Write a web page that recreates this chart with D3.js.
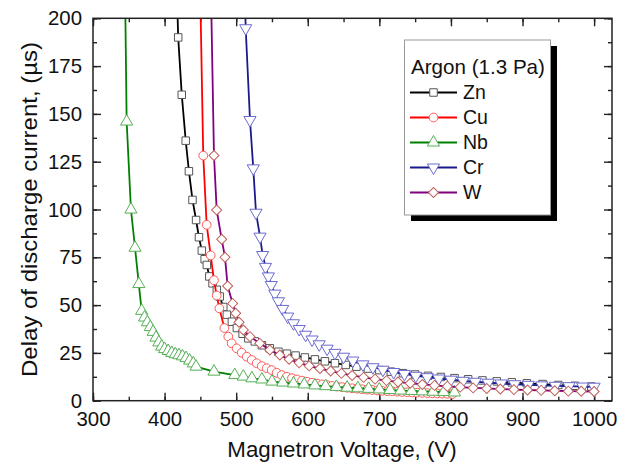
<!DOCTYPE html>
<html>
<head>
<meta charset="utf-8">
<script src="https://cdn.jsdelivr.net/npm/d3@7"></script>
<style>
  html, body { margin: 0; padding: 0; background: #fff; }
  svg { display: block; font-family: "Liberation Sans", Arial, sans-serif; }
</style>
</head>
<body>
<svg id="chart" width="625" height="472"></svg>
<script>
// Discharge delay vs magnetron voltage, argon at 1.3 Pa
const xTicks = [300, 400, 500, 600, 700, 800, 900, 1000];
const yTicks = [0, 25, 50, 75, 100, 125, 150, 175, 200];

const znV = [416, 419, 424, 429.5, 434, 439, 444, 448, 452, 456, 459, 462.5, 467, 473, 477, 482, 487, 494, 501, 509, 517, 526, 536, 547, 559, 571, 583, 596, 610, 624, 638, 653, 668, 684, 700, 716, 733, 750, 768, 786, 805, 824, 844, 864, 885, 906, 928, 950, 973, 996];
const znD = [230, 190, 160, 136, 120, 105, 94.5, 85.5, 78.5, 74, 71, 65, 61.4, 58, 54.5, 49, 45, 41.3, 38, 35, 32.6, 31, 29, 27.4, 25.6, 24.6, 23.6, 22.6, 21.6, 20.6, 19.6, 18.7, 17.8, 16.8, 16, 15.2, 14.4, 13.7, 13, 12.4, 11.8, 11.2, 10.6, 10.1, 9.6, 9.1, 8.7, 8.2, 7.8, 7.4];

const cuV = [449, 454, 458.8, 464.4, 469, 472.8, 476.5, 483.5, 489, 493.7, 500.7, 507.7, 514.7, 521.7, 528.7, 535.7, 542.6, 549.6, 556.6, 563.6, 570.6, 578, 585, 592, 599, 606, 613, 620, 627, 634, 641, 648, 655, 662, 669, 676, 683, 690, 697, 704, 711, 718, 725, 732, 739, 746, 753, 760, 767, 774, 781, 788, 795, 802];
const cuD = [230, 128.2, 92, 76, 63, 55, 48.3, 38, 33.5, 30, 27.4, 25.1, 23, 21.3, 19.6, 18.1, 17, 16, 14.6, 13.4, 12.5, 11.8, 11.1, 10.5, 9.9, 9.4, 8.9, 8.5, 8.1, 7.7, 7.4, 7.1, 6.8, 6.5, 6.3, 6.0, 5.8, 5.6, 5.4, 5.2, 5.0, 4.9, 4.7, 4.6, 4.4, 4.3, 4.2, 4.1, 4.0, 3.9, 3.8, 3.7, 3.6, 3.5];

const nbV = [344, 347, 353, 358.7, 364, 368, 372, 376, 380, 384, 388, 392, 396, 400, 405, 410, 415, 420, 425, 430, 435, 440, 444, 469, 498, 510, 522, 536, 550, 565, 580, 595, 610, 625, 640, 655, 670, 685, 700, 715, 730, 745, 760, 775, 790, 805];
const nbD = [240, 146, 100, 80, 61, 47, 43.5, 41, 38.5, 36, 33, 30.5, 28.3, 27, 26, 25, 24.3, 23.8, 23.2, 22.3, 21, 19.5, 17.8, 15.2, 13.4, 12.6, 11.7, 11.1, 10, 9.5, 9, 8.5, 8, 7.6, 7.2, 6.8, 6.5, 6.2, 5.9, 5.6, 5.3, 5.1, 4.9, 4.7, 4.5, 4.3];

const crV = [511, 513.3, 519.3, 523.9, 527.7, 533.3, 537, 541, 545, 549, 554, 559, 565, 572, 580, 588, 597, 606, 616, 627, 638, 650, 663, 677, 691, 705, 720, 735, 751, 767, 783, 800, 817, 834, 852, 870, 889, 908, 927, 946, 965, 984, 1000];
const crD = [230, 194.8, 146.8, 121.5, 98.3, 85.8, 76.2, 70, 65, 60.5, 56, 52, 48, 44, 40.5, 37.5, 34.5, 32, 29.5, 27.2, 25, 23, 21, 19, 17.5, 16.2, 15, 14, 13, 12.3, 11.6, 11, 10.4, 9.9, 9.4, 9.0, 8.6, 8.3, 8.0, 7.8, 7.6, 7.4, 7.3];

const wV = [464, 469, 472.8, 479.8, 484.4, 488.1, 495.1, 499.3, 504, 510, 519.3, 533, 547, 561, 574, 588, 602, 617, 632, 647, 662, 678, 694, 710, 726, 743, 760, 777, 795, 813, 831, 850, 869, 888, 907, 926, 945, 964, 982, 1000];
const wD = [230, 128.2, 99.7, 84.4, 75, 60, 50.9, 45.7, 41, 37, 33.5, 30, 26.5, 23.9, 21.7, 19.8, 18.2, 16.8, 15.5, 14.3, 13.2, 12.2, 11.3, 10.5, 9.8, 9.1, 8.5, 8, 7.5, 7.1, 6.7, 6.4, 6.1, 5.8, 5.6, 5.4, 5.2, 5.0, 4.9, 4.8];

const seriesNames = ["Zn", "Cu", "Nb", "Cr", "W"];
const series = [
  { name: "Zn", v: znV, d: znD, line: "#000000", mark: "#555555", shape: "square" },
  { name: "Cu", v: cuV, d: cuD, line: "#ff0000", mark: "#ff5a5a", shape: "circle" },
  { name: "Nb", v: nbV, d: nbD, line: "#008000", mark: "#55b055", shape: "up" },
  { name: "Cr", v: crV, d: crD, line: "#1a1a8c", mark: "#6b6bd0", shape: "down" },
  { name: "W",  v: wV,  d: wD,  line: "#800080", mark: "#c0605a", shape: "diamond" }
];

const svg = d3.select("#chart");
const L = 93, R = 612, T = 18.3, B = 400.7;

const x = d3.scaleLinear().domain([300, 1025]).range([L, R]);
const y = d3.scaleLinear().domain([0, 200]).range([B, T]);

svg.append("defs").append("clipPath").attr("id", "plotclip")
  .append("rect").attr("x", L).attr("y", T).attr("width", R - L).attr("height", B - T);

function symbolPath(shape) {
  switch (shape) {
    case "square":  return d3.symbol(d3.symbolSquare, 56)();
    case "circle":  return d3.symbol(d3.symbolCircle, 60)();
    case "up":      return d3.symbol(d3.symbolTriangle, 64)();
    case "down":    return d3.symbol(d3.symbolTriangle, 64)();
    case "diamond": return d3.symbol(d3.symbolSquare, 50)();
  }
}
function symbolRotate(shape) {
  if (shape === "down") return " rotate(180)";
  if (shape === "diamond") return " rotate(45)";
  return "";
}

// axes: ticks point inward on all four sides
const minorX = d3.range(300, 1025, 50);
const minorY = d3.range(0, 200.1, 12.5);
const axG = svg.append("g");

axG.append("g").attr("transform", `translate(0,${B})`)
  .call(d3.axisBottom(x).tickValues(minorX).tickSize(-4).tickFormat(""));
axG.append("g").attr("transform", `translate(0,${B})`)
  .call(d3.axisBottom(x).tickValues(xTicks).tickSize(-8).tickPadding(11).tickFormat(d3.format("d")));
axG.append("g").attr("transform", `translate(0,${T})`)
  .call(d3.axisTop(x).tickValues(minorX).tickSize(-4).tickFormat(""));
axG.append("g").attr("transform", `translate(0,${T})`)
  .call(d3.axisTop(x).tickValues(xTicks).tickSize(-8).tickFormat(""));
axG.append("g").attr("transform", `translate(${L},0)`)
  .call(d3.axisLeft(y).tickValues(minorY).tickSize(-4).tickFormat(""));
axG.append("g").attr("transform", `translate(${L},0)`)
  .call(d3.axisLeft(y).tickValues(yTicks).tickSize(-8).tickPadding(11).tickFormat(d3.format("d")));
axG.append("g").attr("transform", `translate(${R},0)`)
  .call(d3.axisRight(y).tickValues(minorY).tickSize(-4).tickFormat(""));
axG.append("g").attr("transform", `translate(${R},0)`)
  .call(d3.axisRight(y).tickValues(yTicks).tickSize(-8).tickFormat(""));

axG.selectAll(".domain").remove();
axG.selectAll(".tick line").attr("stroke", "#222").attr("stroke-width", 1.4);
axG.selectAll(".tick text").attr("fill", "#111").style("font-size", "20.4px");

// series lines and markers
const plot = svg.append("g").attr("clip-path", "url(#plotclip)");
series.forEach(s => {
  const pts = s.v.map((v, i) => [v, s.d[i]]);
  plot.append("path")
    .datum(pts)
    .attr("fill", "none")
    .attr("stroke", s.line)
    .attr("stroke-width", 1.8)
    .attr("d", d3.line().x(p => x(p[0])).y(p => y(p[1])));
  plot.append("g").selectAll("path")
    .data(pts)
    .join("path")
    .attr("d", symbolPath(s.shape))
    .attr("transform", p => `translate(${x(p[0])},${y(p[1])})${symbolRotate(s.shape)}`)
    .attr("fill", "#fff")
    .attr("stroke", s.mark)
    .attr("stroke-width", 1);
});

// frame
svg.append("rect").attr("x", L).attr("y", T).attr("width", R - L).attr("height", B - T)
  .attr("fill", "none").attr("stroke", "#222").attr("stroke-width", 1.5);

// axis titles
svg.append("text")
  .attr("x", 342).attr("y", 457)
  .attr("text-anchor", "middle").attr("fill", "#111")
  .style("font-size", "22.3px")
  .text("Magnetron Voltage, (V)");
svg.append("text")
  .attr("transform", `translate(37,${(T + B) / 2}) rotate(-90)`)
  .attr("text-anchor", "middle").attr("fill", "#111")
  .attr("textLength", 335).attr("lengthAdjust", "spacingAndGlyphs")
  .style("font-size", "22px")
  .text("Delay of discharge current, (µs)");

// legend with drop shadow
const lg = svg.append("g");
lg.append("rect").attr("x", 411).attr("y", 46).attr("width", 146).attr("height", 175).attr("fill", "#000");
lg.append("rect").attr("x", 404.5).attr("y", 40).attr("width", 146).attr("height", 175)
  .attr("fill", "#fff").attr("stroke", "#999").attr("stroke-width", 1);
lg.append("text").attr("x", 411).attr("y", 74).attr("fill", "#111").style("font-size", "20.6px")
  .text("Argon (1.3 Pa)");
series.forEach((s, i) => {
  const cy = 92.5 + i * 25;
  lg.append("line").attr("x1", 410).attr("x2", 457).attr("y1", cy).attr("y2", cy)
    .attr("stroke", s.line).attr("stroke-width", 1.8);
  lg.append("path").attr("d", symbolPath(s.shape))
    .attr("transform", `translate(433.5,${cy})${symbolRotate(s.shape)}`)
    .attr("fill", "#fff").attr("stroke", s.mark).attr("stroke-width", 1);
  lg.append("text").attr("x", 463).attr("y", cy + 6.5).attr("fill", "#111").style("font-size", "19.5px")
    .text(seriesNames[i]);
});
</script>
</body>
</html>
